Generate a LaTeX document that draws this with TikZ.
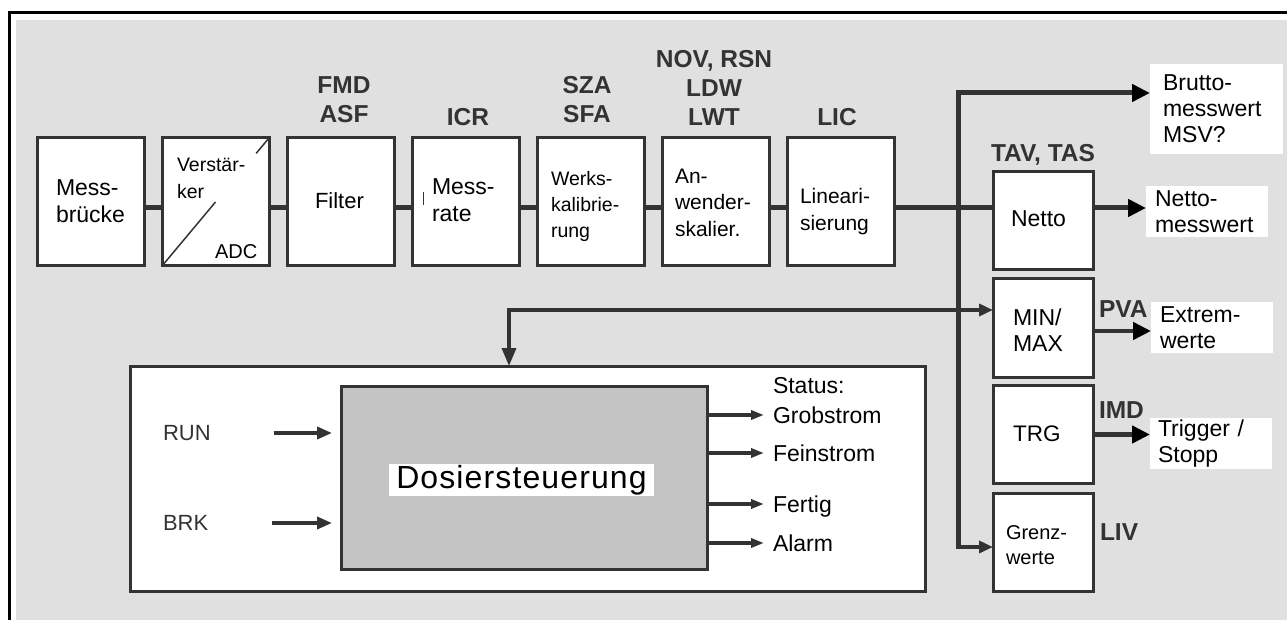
\documentclass[tikz,border=0pt]{standalone}
\usepackage{fontspec}
\setmainfont{Liberation Sans}
\usetikzlibrary{arrows.meta,calc}
\definecolor{linegray}{HTML}{333333}
\definecolor{bggray}{HTML}{E0E0E0}
\definecolor{coregray}{HTML}{C3C3C3}

\begin{document}
\begin{tikzpicture}[x=1pt,y=-1pt,
  every node/.style={inner sep=0pt, outer sep=0pt},
  blk/.style={draw=linegray, line width=3pt, fill=white, minimum width=107pt, minimum height=128pt},
  rblk/.style={blk, minimum width=100pt, minimum height=98pt},
  txt/.style={font=\fontsize{23}{27}\selectfont, align=left, anchor=west},
  stxt/.style={font=\fontsize{20}{26}\selectfont, align=left, anchor=west},
  stat/.style={txt, text depth=0pt},
  lbl/.style={font=\fontsize{24.5}{29}\selectfont\bfseries, text=linegray, align=center},
  outbox/.style={fill=white, font=\fontsize{23}{26}\selectfont, align=left, inner xsep=9pt, text width=104pt, minimum height=51pt},
  sig/.style={draw=linegray, line width=5pt},
  thinsig/.style={draw=linegray, line width=3.5pt, -{Triangle[length=14pt,width=12pt]}},
  stsig/.style={draw=linegray, line width=3.5pt, -{Triangle[length=13pt,width=9pt]}, shorten >=9pt},
  outsig/.style={draw=linegray, line width=4.5pt, -{Triangle[length=18pt,width=17pt,color=black]}}]

\useasboundingbox (0,0) rectangle (1287,620);
\fill[white] (0,0) rectangle (1287,620);
\fill[bggray] (16,20) rectangle (1287,620);
\draw[black, line width=3pt] (1287,13) -- (9,13) -- (9,620);

% signal chain
\node[blk] (mess) at (90.5,202) {};
\node[blk] (verst) at (215.5,202) {};
\node[blk] (filt) at (340.5,202) {};
\node[blk] (rate) at (465.5,202) {};
\node[blk] (werk) at (590.5,202) {};
\node[blk] (anw) at (715.5,202) {};
\node[blk] (lin) at (840.5,202) {};

\node[txt] (messT) at (56,201.5) {Mess-\\brücke};
\node[stxt, font=\fontsize{19.5}{27}\selectfont] (verstT) at (177,178.5) {Verstär-\\ker};
\node[stxt] (adc) at (215,252) {ADC};
\draw[linegray, line width=1.5pt] (verst.south west) -- ($(verst.south west)!0.5!(verst.north east)$);
\draw[linegray, line width=1.5pt] ($(verst.south west)!0.88!(verst.north east)$) -- (verst.north east);
\node[txt, font=\fontsize{22}{27}\selectfont] (filtT) at (315,201) {Filter};
\node[txt] (rateT) at (432,200) {Mess-\\rate};
\draw[linegray, line width=1pt] ([xshift=11pt,yshift=10pt]rate.west) -- ([xshift=11pt,yshift=-3pt]rate.west);
\node[stxt, font=\fontsize{19.5}{26}\selectfont] (werkT) at (551,206) {Werks-\\kalibrie-\\rung};
\node[stxt, font=\fontsize{21}{26.5}\selectfont] (anwT) at (675,202.5) {An-\\wender-\\skalier.};
\node[stxt, font=\fontsize{21}{27}\selectfont] (linT) at (800,211.5) {Lineari-\\sierung};

% parameter labels
\node[lbl] (fmd) at (344,100) {FMD\\ASF};
\node[lbl] (icr) at (468,117) {ICR};
\node[lbl] (sza) at (587,100) {SZA\\SFA};
\node[lbl] (nov) at (714,88) {NOV, RSN\\LDW\\LWT};
\node[lbl] (lic) at (837,117) {LIC};
\node[lbl] (tav) at (1043,155) {TAV, TAS};
\node[lbl, anchor=west] (pva) at (1099,309) {PVA};
\node[lbl, anchor=west] (imd) at (1099,410) {IMD};
\node[lbl, anchor=west] (liv) at (1100,532) {LIV};

% output blocks
\node[rblk] (netto) at (1043,221) {};
\node[rblk] (minmax) at (1043,328) {};
\node[rblk] (trg) at (1043,434.5) {};
\node[rblk] (grenz) at (1043,542.5) {};
\node[txt] (nettoT) at (1011,219) {Netto};
\node[txt, font=\fontsize{23}{26}\selectfont] (minmaxT) at (1013,330) {MIN/\\MAX};
\node[txt, font=\fontsize{22.5}{26}\selectfont] (trgT) at (1013,434) {TRG};
\node[stxt, font=\fontsize{20}{25}\selectfont] (grenzT) at (1006,545) {Grenz-\\werte};

\node[outbox, text width=107pt, inner xsep=13pt, minimum height=90pt] (brutto) at (1216.5,109) {Brutto-\\messwert\\MSV?};
\node[outbox] (nettoOut) at (1207,211.5) {Netto-\\messwert};
\node[outbox] (extrem) at (1212,327.5) {Extrem-\\werte};
\node[outbox, inner xsep=8pt, text width=106pt] (trigger) at (1211,443.5) {Trigger /\\Stopp};

% dosing control
\node[draw=linegray, line width=3pt, fill=white, minimum width=795pt, minimum height=225pt] (dos) at (527.5,478.5) {};
\node[draw=linegray, line width=3pt, fill=coregray, minimum width=366pt, minimum height=183pt] (core) at (524,477.5) {};
\node[fill=white, minimum width=265pt, minimum height=32pt, font=\fontsize{32}{36}\selectfont\addfontfeature{LetterSpace=3.5}] (dosT) at (521.5,480) {Dosiersteuerung};
\node[txt, text=linegray, font=\fontsize{22}{26}\selectfont] (run) at (163,433) {RUN};
\node[txt, text=linegray, font=\fontsize{22}{26}\selectfont] (brk) at (163,523) {BRK};
\node[stat] (status) at (773,385) {Status:};
\node[stat] (grob) at (773,415) {Grobstrom};
\node[stat] (fein) at (773,453) {Feinstrom};
\node[stat] (fert) at (773,504) {Fertig};
\node[stat] (alarm) at (773,543) {Alarm};

% connections
\coordinate (sig) at (0,208);
\draw[sig] (mess.east |- sig) -- (verst.west |- sig);
\draw[sig] (verst.east |- sig) -- (filt.west |- sig);
\draw[sig] (filt.east |- sig) -- (rate.west |- sig);
\draw[sig] (rate.east |- sig) -- (werk.west |- sig);
\draw[sig] (werk.east |- sig) -- (anw.west |- sig);
\draw[sig] (anw.east |- sig) -- (lin.west |- sig);
\draw[sig] (lin.east |- sig) -- (netto.west |- sig);

\coordinate (busTop) at (958,93);
\coordinate (busBot) at (958,547);
\draw[outsig, line width=5pt] (busBot) -- (busTop) -- (brutto.west |- busTop);
\draw[thinsig] ([xshift=-2.5pt]busBot) -- (grenz.west |- busBot);
\draw[outsig, line width=5pt] (netto.east |- sig) -- (nettoOut.west |- sig);
\coordinate (ex) at ([yshift=-3pt]minmax.east);
\draw[outsig] (ex) -- (ex -| extrem.west);
\draw[outsig] (trg.east) -- (trg.east -| trigger.west);

\coordinate (fb) at (509,310);
\draw[thinsig, {Triangle[length=18pt,width=14pt]}-{Triangle[length=14pt,width=12pt]}] (dos.north -| fb) -- (fb) -- (minmax.west |- fb);

\draw[thinsig, -{Triangle[length=15pt,width=12pt]}, shorten >=9pt] ([xshift=63pt]run.east) -- (core.west |- run.east);
\draw[thinsig, -{Triangle[length=15pt,width=12pt]}, shorten >=9pt] ([xshift=64pt]brk.east) -- (core.west |- brk.east);
\draw[stsig] (core.east |- grob.west) -- (grob.west);
\draw[stsig] (core.east |- fein.west) -- (fein.west);
\draw[stsig] (core.east |- fert.west) -- (fert.west);
\draw[stsig] (core.east |- alarm.west) -- (alarm.west);
\end{tikzpicture}
\end{document}
